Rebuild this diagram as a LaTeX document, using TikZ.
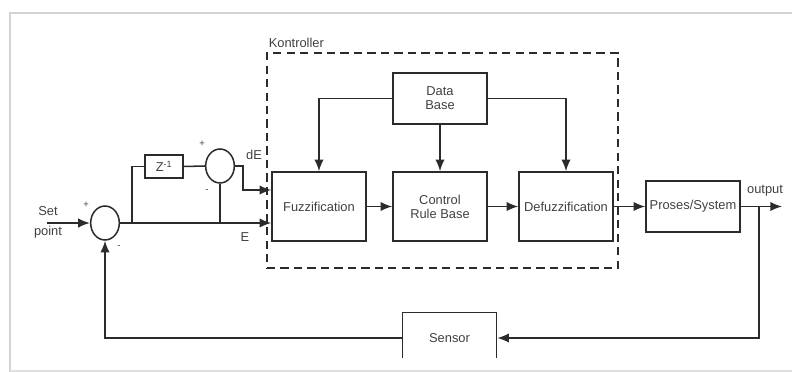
\documentclass[tikz,border=0pt]{standalone}
\usepackage{xcolor}
\usepackage{amsmath}
\usepackage{fontspec}
\setmainfont{Liberation Sans}
\usepackage{tikz}
\usetikzlibrary{shapes.geometric,arrows.meta}

\definecolor{garis}{HTML}{2B2B2B}
\definecolor{teks}{HTML}{404040}

\begin{document}
\begin{tikzpicture}[x=0.03cm,y=-0.03cm,line width=1.3pt,draw=garis,text=teks,
  font=\fontsize{11}{12}\selectfont]
\useasboundingbox (0,0) rectangle (792,372);

% bingkai
\draw[gray!35,line width=1pt] (792,13) -- (10,13) -- (10,372);
\draw[gray!25,line width=1pt] (10,371) -- (792,371);

\tikzstyle{blok}=[draw,minimum width=2.82cm,minimum height=2.07cm,inner sep=1pt];
\tikzstyle{kotak}=[draw,minimum width=2.82cm,minimum height=1.53cm,inner sep=1pt];
\tikzstyle{jumlah}=[draw,ellipse,minimum width=0.86cm,minimum height=1.02cm,inner sep=0pt];
\tikzstyle{tanda}=[font=\fontsize{8}{9}\selectfont,inner sep=0pt];
\tikzstyle{panah}=[->,>={Latex[length=10pt,width=8pt]}];

% blok kontroller
\node[draw,dashed,dash pattern=on 7pt off 4.5pt,line width=1.1pt,minimum width=10.53cm,minimum height=6.45cm] (ctrl) at (442.5,160.5) {};
\node[anchor=west,inner sep=0pt] (kont) at (268,43) {Kontroller};
\node[kotak,align=center] (db) at (440,98.5) {Data\\Base};
\node[blok] (fuzz) at (319,206.5) {Fuzzification};
\node[blok,align=center] (crb) at (440,206.5) {Control\\Rule Base};
\node[blok] (defuzz) at (566,206.5) {Defuzzification};
\node[kotak] (plant) at (693,206.5) {Proses/System};
\begin{scope}
\clip (390,300) rectangle (510,357);
\node[kotak] (sensor) at (449.5,338) {Sensor};
\end{scope}

% penjumlah dan tunda
\node[jumlah] (sum1) at (105,223) {};
\node[jumlah] (sum2) at (220,166) {};
\node[draw,minimum width=1.14cm,minimum height=0.69cm,inner sep=0pt] (zinv) at (164,166.5) {Z\textsuperscript{-1}};

\node[tanda] (p1) at (86,205) {+};
\node[tanda] (m1) at (119,247) {-};
\node[tanda] (p2) at (202,144) {+};
\node[tanda] (m2) at (207,191) {-};

\node[align=center,inner sep=0pt,font=\fontsize{11}{17}\selectfont] (sp) at (48,222) {Set\\point};
\node[inner sep=0pt] (lde) at (254,155) {dE};
\node[inner sep=0pt] (le) at (245,237) {E};
\node[inner sep=0pt] (lout) at (765,191) {output};

\coordinate (in) at (47,223);
\coordinate (b1) at (132,223);
\coordinate (de) at (243,190);
\coordinate (out) at (782,206.5);
\coordinate (b2) at (759,206.5);

\draw[panah] (in)--(sum1.west);
\draw[panah] (sum1.east)--(sum1 -| fuzz.west);
\draw (b1) |- (zinv.west);
\draw (zinv.east)--(sum2.west);
\draw (sum2 |- sum1)--(sum2.south);
\draw[panah] (sum2.east) -| (de) -- (de -| fuzz.west);

\draw[panah] (db.west) -| (fuzz.north);
\draw[panah] (db.south)--(crb.north);
\draw[panah] (db.east) -| (defuzz.north);
\draw[panah] (fuzz)--(crb);
\draw[panah] (crb)--(defuzz);
\draw[panah] (defuzz)--(plant);
\draw[panah] (plant.east)--(out);
\draw[panah] (b2) |- (sensor.east);
\draw[panah] (sensor.west) -| (sum1.south);
\end{tikzpicture}
\end{document}
